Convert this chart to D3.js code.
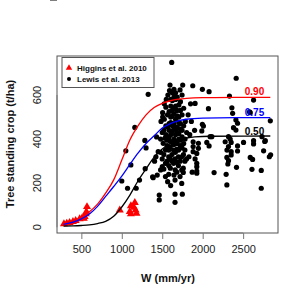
<!DOCTYPE html>
<html><head><meta charset="utf-8">
<script src="https://cdn.jsdelivr.net/npm/d3@7"></script>
<style>body{margin:0;background:#fff}svg{display:block}</style>
</head><body>
<svg id="c" width="297" height="298"></svg>
<script>
// ---- data ----
const xTicks = [500, 1000, 1500, 2000, 2500];
const yTicks = [0, 200, 400, 600];
const higgins = [[285,15],[320,18],[355,21],[396,25],[430,30],[479,38],[510,42],[530,40],[541,48],[555,60],[562,71],[570,93],
  [975,78],[1099,71],[1112,60],[1112,97],[1150,90],[1161,112],[1170,78],[1182,63]];
const lewis = [
  [1000,210],[1050,347],[1071,177],[1112,283],[1161,453],[1178,177],[1219,214],[1285,394],[1300,360],[1289,266],[1326,603],[1381,229],
  [1388,225],[1405,300],[1422,320],[1438,237],[1450,343],[1463,146],[1463,124],[1430,410],
  [1480,260],[1480,340],[1480,400],[1485,480],
  [1500,275],[1500,310],[1512,381],[1500,430],[1505,500],[1505,520],
  [1520,264],[1520,330],[1534,404],[1520,440],[1525,490],[1525,560],
  [1540,230],[1540,290],[1540,350],[1545,420],[1545,460],[1545,545],[1550,580],
  [1567,207],[1560,300],[1560,370],[1560,395],[1565,455],[1565,510],[1570,600],
  [1580,240],[1580,280],[1580,320],[1580,350],[1585,410],[1585,440],[1585,470],[1585,525],[1590,620],
  [1604,189],[1600,268],[1600,310],[1600,365],[1600,390],[1605,420],[1605,475],[1605,500],[1605,550],[1605,580],[1596,645],
  [1617,748],
  [1620,300],[1620,330],[1625,385],[1625,435],[1625,460],[1625,505],[1625,530],[1625,575],[1625,610],
  [1645,237],[1640,290],[1640,350],[1645,375],[1645,400],[1645,450],[1645,470],[1645,515],[1645,540],[1645,590],[1645,626],
  [1658,150],[1658,113],[1658,214],[1660,260],[1660,310],[1662,340],[1662,390],[1665,420],[1665,445],[1665,490],[1665,550],[1665,580],[1665,610],
  [1680,250],[1680,295],[1682,355],[1685,380],[1685,430],[1685,455],[1685,505],[1685,530],[1685,590],
  [1700,280],[1700,320],[1702,350],[1705,400],[1705,425],[1705,475],[1705,500],[1705,555],[1720,623],
  [1720,230],[1722,300],[1725,370],[1725,395],[1725,445],[1725,470],[1725,530],[1725,570],
  [1741,199],[1741,260],[1742,320],[1745,360],[1745,410],[1745,440],[1745,510],[1745,600],[1753,645],
  [1760,249],[1760,268],[1762,330],[1765,380],[1765,460],[1765,540],
  [1748,150],[1780,300],[1780,350],[1782,400],[1785,480],[1800,310],[1802,430],
  [1830,320],[1850,560],[1877,642],[1882,388],[1882,366],[1882,343],[1906,562],[1906,310],[1927,275],[1927,255],[1927,245],[1927,290],
  [1927,335],[1947,358],[1947,381],[1989,437],[1996,467],[1996,626],[2009,459],[1860,480],[1840,420],[1820,510],[1900,440],[1870,250],
  [2079,615],[2071,538],[2079,369],[2092,411],[2113,411],[2141,248],[2051,385],
  [2278,388],[2290,240],[2299,192],[2299,317],[2311,287],[2319,302],[2319,366],[2319,411],[2331,595],[2352,385],[2352,343],[2352,328],
  [2361,542],[2370,517],[2381,452],[2411,441],[2411,487],[2414,676],[2418,272],[2431,472],[2431,369],[2431,346],[2340,400],[2300,350],
  [2505,385],[2579,524],[2588,520],[2588,317],[2609,263],[2617,308],[2629,577],[2629,393],[2629,378],[2724,258],[2724,177],[2733,411],
  [2753,347],[2767,389],[2774,393],[2824,320],[2836,483],[2840,329]
];
const curveLabels = ["0.90", "0.75", "0.50"];
const curveColors = ["#ff0000", "#0000ff", "#000000"];
const curve90 = [[280,15],[400,28],[500,45],[600,70],[700,105],[800,155],[900,215],[1000,305],[1100,396],[1200,460],[1300,510],[1400,543],[1500,562],[1600,574],[1700,581],[1800,585],[2000,588],[2400,589],[2836,589]];
const curve75 = [[280,13],[400,23],[500,38],[600,60],[700,95],[800,140],[900,185],[1000,232],[1100,285],[1200,336],[1300,380],[1400,415],[1500,450],[1600,470],[1700,483],[1800,490],[2000,495],[2400,497],[2836,497]];
const curve50 = [[280,5],[400,6],[500,8],[600,11],[700,17],[800,27],[900,50],[1000,92],[1100,146],[1200,210],[1300,265],[1400,318],[1500,355],[1600,380],[1700,397],[1800,405],[1900,410],[2100,413],[2836,414]];
const legendLabels = ["Higgins et al. 2010", "Lewis et al. 2013"];

// ---- drawing ----
const svg = d3.select("#c");
const L = 57, R = 278, T = 56, B = 233;
const x = d3.scaleLinear().domain([199, 2931]).range([L, R]);
const y = d3.scaleLinear().domain([-26, 777]).range([B, T]);
const font = "Liberation Sans, Arial, sans-serif";

// points
svg.append("g").selectAll("circle").data(lewis).join("circle")
  .attr("cx", d => x(d[0])).attr("cy", d => y(d[1])).attr("r", 2.6).attr("fill", "#000");
const tri = d3.symbol().type(d3.symbolTriangle).size(28);
svg.append("g").selectAll("path").data(higgins).join("path")
  .attr("d", tri).attr("transform", d => `translate(${x(d[0])},${y(d[1])})`).attr("fill", "#ff0000");

// curves
const line = d3.line().x(d => x(d[0])).y(d => y(d[1])).curve(d3.curveMonotoneX);
[curve90, curve75, curve50].forEach((c, i) => {
  svg.append("path").attr("d", line(c)).attr("fill", "none")
    .attr("stroke", curveColors[i]).attr("stroke-width", 1.3);
});
const labelY = [91.7, 112.7, 131.7];
curveLabels.forEach((t, i) => {
  svg.append("text").attr("x", 254.5).attr("y", labelY[i]).attr("dy", "0.35em")
    .attr("text-anchor", "middle").attr("font-family", font).attr("font-weight", "bold")
    .attr("font-size", 10).attr("fill", curveColors[i]).text(t);
});

// box
svg.append("rect").attr("x", L).attr("y", T).attr("width", R - L).attr("height", B - T)
  .attr("fill", "none").attr("stroke", "#555").attr("stroke-width", 1);

// axes
const xa = svg.append("g").attr("transform", `translate(0,${B})`)
  .call(d3.axisBottom(x).tickValues(xTicks).tickSize(6).tickPadding(6).tickFormat(d3.format("d")));
xa.select(".domain").attr("d", `M${x(500)},0H${x(2500)}`).attr("stroke", "#777");
xa.selectAll("line").attr("stroke", "#777");
xa.selectAll("text").attr("font-family", font).attr("font-size", 11).attr("fill", "#222");

const ya = svg.append("g").attr("transform", `translate(${L},0)`)
  .call(d3.axisLeft(y).tickValues(yTicks).tickSize(7).tickFormat(d3.format("d")));
ya.select(".domain").attr("d", `M0,${y(0)}V${y(600)}`).attr("stroke", "#777");
ya.selectAll("line").attr("stroke", "#777");
ya.selectAll("text").attr("font-family", font).attr("font-size", 11).attr("fill", "#222")
  .attr("text-anchor", "middle").attr("transform", d => `translate(-20,${y(d)}) rotate(-90)`)
  .attr("x", 0).attr("y", 0).attr("dy", "0.35em");
ya.selectAll(".tick").attr("transform", null);

// axis titles
svg.append("text").attr("x", 168).attr("y", 278).attr("dy", "0.35em").attr("text-anchor", "middle")
  .attr("font-family", font).attr("font-weight", "bold").attr("font-size", 11).attr("fill", "#111").text("W (mm/yr)");
svg.append("text").attr("transform", `translate(10,144) rotate(-90)`).attr("dy", "0.35em")
  .attr("text-anchor", "middle").attr("font-family", font).attr("font-weight", "bold")
  .attr("font-size", 11).attr("fill", "#111").text("Tree standing crop (t/ha)");

// legend
const lg = svg.append("g");
lg.append("rect").attr("x", 62).attr("y", 57.5).attr("width", 92).attr("height", 30)
  .attr("fill", "#fff").attr("stroke", "#555").attr("stroke-width", 1);
legendLabels.forEach((t, i) => {
  const yy = 68 + i * 11;
  if (i === 0) lg.append("path").attr("d", d3.symbol().type(d3.symbolTriangle).size(18)())
    .attr("transform", `translate(69,${yy})`).attr("fill", "#ff0000");
  else lg.append("circle").attr("cx", 69).attr("cy", yy).attr("r", 2).attr("fill", "#000");
  lg.append("text").attr("x", 77).attr("y", yy).attr("dy", "0.35em").attr("font-family", font)
    .attr("font-weight", "bold").attr("font-size", 8).attr("fill", "#111").text(t);
});
</script>
</body></html>
